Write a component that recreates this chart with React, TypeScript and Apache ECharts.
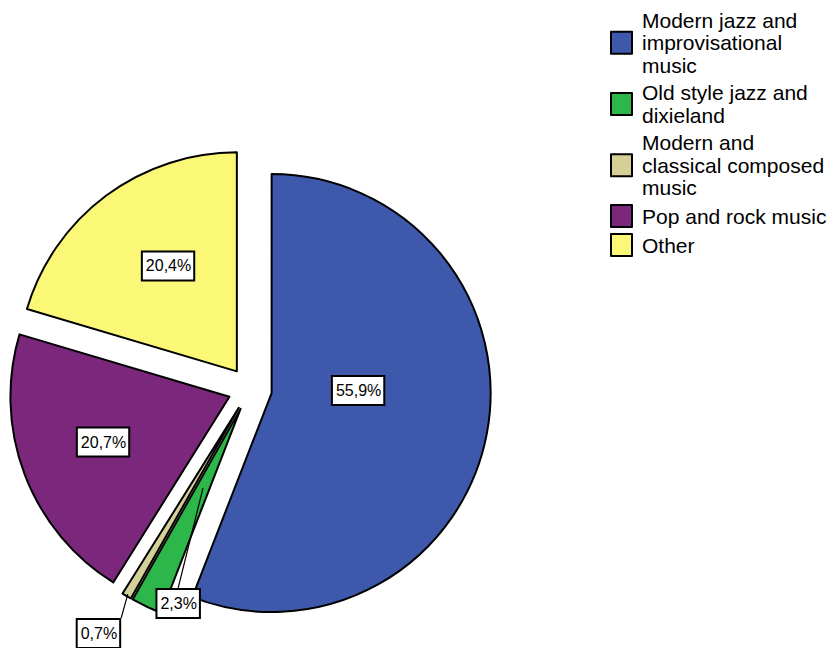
import React, { useEffect, useRef } from 'react';
import * as echarts from 'echarts';

// ---- data ----
const categories = [
  'Modern jazz and improvisational music',
  'Old style jazz and dixieland',
  'Modern and classical composed music',
  'Pop and rock music',
  'Other',
];
const legendLabels = [
  'Modern jazz and\nimprovisational\nmusic',
  'Old style jazz and\ndixieland',
  'Modern and\nclassical composed\nmusic',
  'Pop and rock music',
  'Other',
];
const percentages = [55.9, 2.3, 0.7, 20.7, 20.4];

// ---- styles / layout ----
const colors = ['#3e59ab', '#2db74b', '#d5d098', '#7b287c', '#fcf877'];
const CX = 250;
const CY = 389;
const R = 219;
const EXPLODE = 22;
const FONT = '"Liberation Sans", Arial, sans-serif';
// label placement per slice: distance from slice apex (fraction of R), angle shift from mid angle (deg)
const LABEL_PLACE: { dist: number; shift: number; leaderFrom?: number; anchor?: number[] }[] = [
  { dist: 0.395, shift: -12.3 },
  { dist: 0.933, shift: -7.6, leaderFrom: 0.4, anchor: [0, -1] },
  { dist: 1.213, shift: 1.1, leaderFrom: 0.99, anchor: [1, -1] },
  { dist: 0.613, shift: 1.0 },
  { dist: 0.575, shift: 3.6 },
];

const total = percentages.reduce((a, b) => a + b, 0);
const dir = (deg: number) => {
  const r = (deg * Math.PI) / 180;
  return [Math.sin(r), -Math.cos(r)];
};

const TRANSPARENT = 'rgba(0,0,0,0)';
const placeholder = (value: number) => ({
  name: '',
  value,
  itemStyle: { color: TRANSPARENT, borderWidth: 0 },
  label: { show: false },
  labelLine: { show: false },
});

const labelStyle = {
  formatter: (p: any) => p.value.toFixed(1).replace('.', ',') + '%',
  fontFamily: FONT,
  fontSize: 16,
  lineHeight: 19,
  color: '#000',
  backgroundColor: '#fff',
  borderColor: '#000',
  borderWidth: 2,
  padding: [4, 2, 4, 3],
};

function buildSeries() {
  const main: any[] = [];
  const overlay: any[] = [];
  let acc = 0;
  percentages.forEach((v, i) => {
    const before = acc;
    const after = total - acc - v;
    const a0 = (acc / total) * 360;
    acc += v;
    const a1 = (acc / total) * 360;
    const mid = (a0 + a1) / 2;
    const d = dir(mid);
    const ax = CX + EXPLODE * d[0];
    const ay = CY + EXPLODE * d[1];
    const pl = LABEL_PLACE[i];
    const hasLeader = pl.leaderFrom != null;

    const labelLayout = (params: any) => {
      const ld = dir(mid + pl.shift);
      const x = ax + pl.dist * R * ld[0];
      const y = ay + pl.dist * R * ld[1];
      const res: any = { x, y, align: 'center', verticalAlign: 'middle' };
      if (hasLeader && pl.anchor) {
        const w = params.labelRect.width / 2;
        const h = params.labelRect.height / 2;
        const sx = ax + (pl.leaderFrom as number) * R * d[0];
        const sy = ay + (pl.leaderFrom as number) * R * d[1];
        const ex = x + pl.anchor[0] * w;
        const ey = y + pl.anchor[1] * h;
        res.labelLinePoints = [
          [sx, sy],
          [(sx + ex) / 2, (sy + ey) / 2],
          [ex, ey],
        ];
      }
      return res;
    };

    const build = (isOverlay: boolean) => {
      const data: any[] = [];
      if (before > 0) data.push(placeholder(before));
      const showLabel = isOverlay ? true : !hasLeader;
      data.push({
        name: categories[i],
        value: v,
        itemStyle: isOverlay ? { color: TRANSPARENT, borderWidth: 0 } : { color: colors[i] },
        label: { show: showLabel, position: hasLeader ? 'outside' : 'inside' },
        labelLine: { show: isOverlay && hasLeader },
      });
      if (after > 1e-9) data.push(placeholder(after));
      return {
        type: 'pie',
        z: isOverlay ? 5 : 2,
        silent: isOverlay,
        center: [ax, ay],
        radius: [0, R],
        startAngle: 90,
        clockwise: true,
        avoidLabelOverlap: false,
        emphasis: { disabled: true },
        itemStyle: { borderColor: '#000', borderWidth: 2 },
        label: labelStyle,
        labelLine: { lineStyle: { color: '#000', width: 1.2 }, length: 5, length2: 5 },
        labelLayout,
        data,
      };
    };

    main.push(build(false));
    if (hasLeader) overlay.push(build(true));
  });
  return [...main, ...overlay];
}

export default function App() {
  const ref = useRef<HTMLDivElement>(null);
  useEffect(() => {
    if (!ref.current) return;
    const chart = echarts.init(ref.current, undefined, { renderer: 'svg' });
    const option: any = {
      animation: false,
      backgroundColor: '#ffffff',
      legend: {
        orient: 'vertical',
        left: 610,
        top: 9,
        padding: 0,
        itemWidth: 21,
        itemHeight: 22,
        itemGap: 5,
        icon: 'rect',
        selectedMode: false,
        data: categories,
        formatter: (name: string) => legendLabels[categories.indexOf(name)],
        textStyle: {
          fontFamily: FONT,
          fontSize: 21,
          lineHeight: 22.5,
          color: '#000',
          padding: [0, 0, 0, 5],
        },
      },
      series: buildSeries(),
    };
    chart.setOption(option);
    return () => chart.dispose();
  }, []);
  return (
    <div
      ref={ref}
      style={{ position: 'fixed', left: 0, top: 0, width: 831, height: 648, background: '#fff' }}
    />
  );
}
